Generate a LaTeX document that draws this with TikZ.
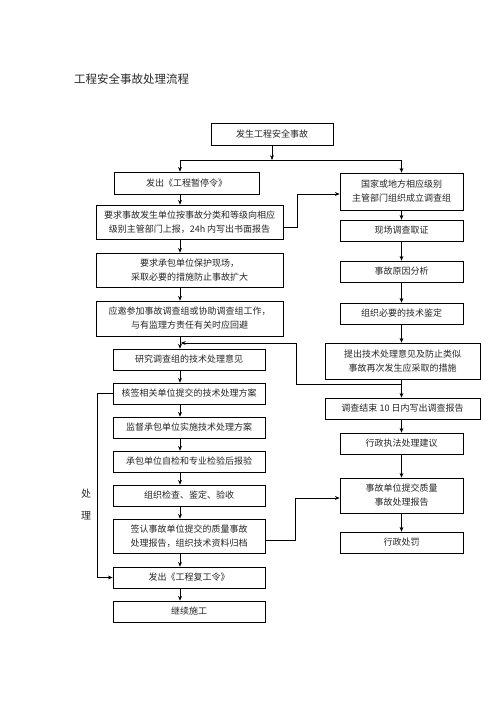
\documentclass[tikz,border=0pt]{standalone}
\usepackage{fontspec}
\newfontfamily\cjk{Noto Sans CJK SC}
\usetikzlibrary{arrows.meta,shadows}
\begin{document}
\begin{tikzpicture}[x=1pt,y=-1pt,
  box/.style={draw, line width=0.6pt, fill=white, text=black!85,
    general shadow={fill=black, shadow xshift=1.3pt, shadow yshift=-1.3pt},
    inner sep=0pt, align=center, font=\cjk\fontsize{9}{14}\selectfont},
  sbox/.style={box, minimum height=21pt},
  dbox/.style={box, minimum height=35pt},
  arr/.style={-{Stealth[length=4.8pt,width=3.8pt]}, line width=0.6pt},
  ln/.style={line width=0.6pt},
  lbl/.style={inner sep=0pt, text=black!85, font=\cjk\fontsize{10}{12}\selectfont}]
\useasboundingbox (0,0) rectangle (496,702);

\node[lbl, anchor=west, font=\cjk\fontsize{11.5}{14}\selectfont] (title) at (74,79) {工程安全事故处理流程};

\node[box, minimum width=122pt, minimum height=22pt] (b0) at (272,134) {发生工程安全事故};

% left column
\node[box, minimum width=145pt, minimum height=22pt] (l1) at (186.5,183) {发出《工程暂停令》};
\node[dbox, minimum width=187pt, minimum height=34pt] (l2) at (189.5,222) {要求事故发生单位按事故分类和等级向相应\\级别主管部门上报，24h 内写出书面报告};
\node[dbox, minimum width=187pt, minimum height=34pt] (l3) at (189.5,270) {要求承包单位保护现场，\\采取必要的措施防止事故扩大};
\node[dbox, minimum width=187pt] (l4) at (189.5,318.5) {应邀参加事故调查组或协助调查组工作，\\与有监理方责任有关时应回避};
\node[sbox, minimum width=152pt] (l5) at (189,359.5) {研究调查组的技术处理意见};
\node[sbox, minimum width=152pt] (l6) at (189,393.5) {核签相关单位提交的技术处理方案};
\node[sbox, minimum width=152pt] (l7) at (189,427.5) {监督承包单位实施技术处理方案};
\node[sbox, minimum width=152pt] (l8) at (189,461.5) {承包单位自检和专业检验后报验};
\node[sbox, minimum width=152pt] (l9) at (189,495.5) {组织检查、鉴定、验收};
\node[dbox, minimum width=152pt, minimum height=34pt] (l10) at (189,536) {签认事故单位提交的质量事故\\处理报告，组织技术资料归档};
\node[sbox, minimum width=152pt] (l11) at (189,577.5) {发出《工程复工令》};
\node[sbox, minimum width=152pt] (l12) at (189,611.5) {继续施工};

% right column
\node[box, minimum width=123pt, minimum height=37pt] (r1) at (401.5,191.5) {国家或地方相应级别\\主管部门组织成立调查组};
\node[sbox, minimum width=123pt] (r2) at (401.5,230.5) {现场调查取证};
\node[sbox, minimum width=123pt] (r3) at (401.5,271.5) {事故原因分析};
\node[sbox, minimum width=123pt] (r4) at (401.5,313.5) {组织必要的技术鉴定};
\node[dbox, minimum width=155pt, minimum height=36pt] (r5) at (402.5,361) {提出技术处理意见及防止类似\\事故再次发生应采取的措施};
\node[sbox, minimum width=155pt] (r6) at (402.5,408.5) {调查结束 10 日内写出调查报告};
\node[sbox, minimum width=123pt] (r7) at (401.5,443.5) {行政执法处理建议};
\node[dbox, minimum width=123pt] (r8) at (401.5,495.5) {事故单位提交质量\\事故处理报告};
\node[sbox, minimum width=123pt] (r9) at (401.5,542.5) {行政处罚};

\node[lbl] (c1) at (86,494) {处};
\node[lbl] (c2) at (86,516) {理};

% top split
\coordinate (j0) at (272,160);
\coordinate (jl) at (180,160);
\coordinate (jr) at (401.5,160);
\draw[arr] (b0.south) -- (j0);
\draw[ln] (jl) -- (jr);
\draw[arr] (jl) -- (jl |- l1.north);
\draw[arr] (jr) -- (r1.north);

% left chain
\foreach \a/\b in {l1/l2,l2/l3,l3/l4,l4/l5,l5/l6,l6/l7,l7/l8,l8/l9,l9/l10,l10/l11,l11/l12}
  \draw[arr] (jl |- \a.south) -- (jl |- \b.north);

% right chain
\foreach \a/\b in {r1/r2,r2/r3,r3/r4,r4/r5,r5/r6,r6/r7,r7/r8,r8/r9}
  \draw[arr] (jr |- \a.south) -- (jr |- \b.north);

% L2 -> R1
\coordinate (p1) at (297,227);
\coordinate (p2) at (297,194);
\draw[arr] (l2.east |- p1) -- (p1) -- (p2) -- (r1.west |- p2);

% R5/R6 branch back to left column
\coordinate (m3) at (401.5,384);
\coordinate (m2) at (296,384);
\coordinate (m1) at (296,343);
\coordinate (m0) at (180.8,343);
\draw[arr] (m3) -- (m2) -- (m1) -- (m0);

% bracket L6 -> L11
\coordinate (k1) at (97,393.5);
\coordinate (k2) at (97,577.5);
\draw[arr] (l6.west) -- (k1) -- (k2) -- (l11.west);

% L10 -> R8
\coordinate (n1) at (295,540);
\coordinate (n2) at (295,498);
\draw[arr] (l10.east |- n1) -- (n1) -- (n2) -- (r8.west |- n2);
\end{tikzpicture}
\end{document}
